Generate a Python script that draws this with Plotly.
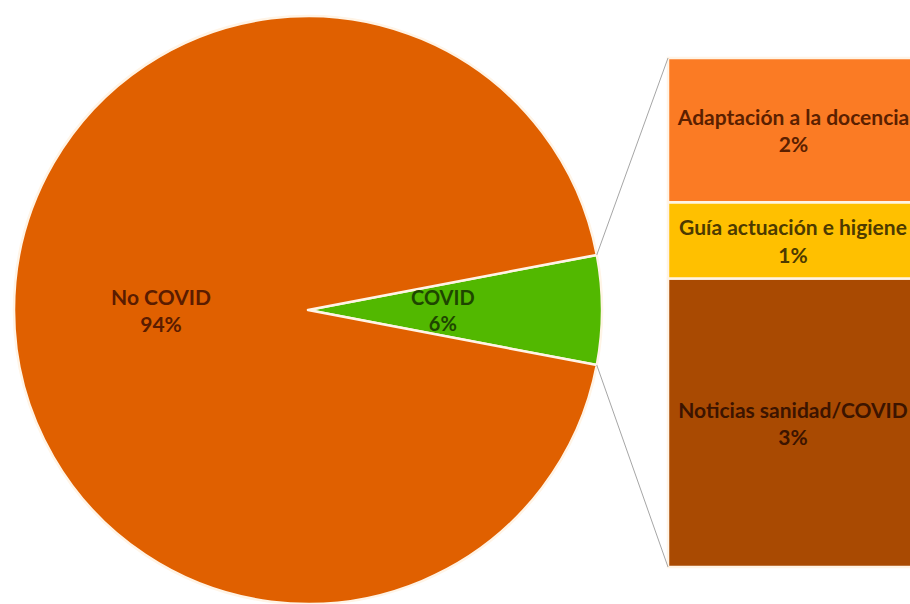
import math
import plotly.graph_objects as go

# Share of items: COVID vs. non-COVID, with the COVID share broken down
pie_labels = ["COVID", "No COVID"]
pie_values = [6.0, 94.0]
pie_colors = ["#52B800", "#E06000"]
pie_text_colors = ["#1E4600", "#5A1C00"]

# Breakdown of the COVID share (bottom to top of the stacked column)
bar_labels = ["Noticias sanidad/COVID", "Guía actuación e higiene", "Adaptación a la docencia"]
bar_values = [3.4, 0.9, 1.7]
bar_colors = ["#A94A02", "#FFC000", "#FB7B24"]
bar_text_colors = ["#3C1400", "#4D3A00", "#5A2000"]

W, H = 910, 604
TOP = 16                      # top margin
PLOT_H = H - TOP

# pie geometry (pixels)
CX, CY, R = 308, 310, 294
# column geometry (pixels)
BAR_CX, BAR_W, BAR_TOP, BAR_BOT = 793, 250, 58, 567
# radial distance of the small-slice label, as a fraction of the radius
SMALL_LABEL_R = 0.46

FONT = "Lato, 'Open Sans', sans-serif"
PIE_FONT_SIZE = 20
BAR_FONT_SIZE = 21

fig = go.Figure()

total_pie = sum(pie_values)
covid_share = pie_values[0] / total_pie
half_angle = covid_share * 360 / 2

pie_pct = [f"{v / total_pie * 100:.0f}%" for v in pie_values]

# the big slice is labelled by the pie itself; the narrow one by an annotation
fig.add_trace(go.Pie(
    labels=pie_labels,
    values=pie_values,
    sort=False,
    direction="clockwise",
    rotation=90 - half_angle,
    marker=dict(colors=pie_colors, line=dict(color="#FFF4E6", width=2.5)),
    texttemplate=["", "%{label}<br>%{percent:.0%}"],
    textposition="inside",
    insidetextorientation="horizontal",
    textfont=dict(family=FONT, size=PIE_FONT_SIZE, color=pie_text_colors, weight="bold"),
    domain=dict(x=[(CX - R) / W, (CX + R) / W], y=[0, 1]),
    showlegend=False,
    hoverinfo="label+percent",
))

# stacked column built from the breakdown values
total = sum(bar_values)
bases = []
acc = 0.0
for v in bar_values:
    bases.append(acc)
    acc += v
bar_text = [f"{lab}<br>{v:.0f}%" for lab, v in zip(bar_labels, bar_values)]

fig.add_trace(go.Bar(
    x=[BAR_CX] * len(bar_values),
    y=bar_values,
    base=bases,
    width=BAR_W,
    marker=dict(color=bar_colors, line=dict(color="#FFF4E6", width=2.5)),
    text=bar_text,
    textposition="inside",
    insidetextanchor="middle",
    constraintext="none",
    textfont=dict(family=FONT, size=BAR_FONT_SIZE, color=bar_text_colors, weight="bold"),
    showlegend=False,
    hoverinfo="text",
))

# y axis scaled so the column spans BAR_BOT..BAR_TOP pixels
k = (BAR_BOT - BAR_TOP) / total
y_lo = -(H - BAR_BOT) / k
y_hi = total + (BAR_TOP - TOP) / k

fig.update_xaxes(range=[0, W], visible=False, fixedrange=True)
fig.update_yaxes(range=[y_lo, y_hi], visible=False, fixedrange=True)


def px_to_paper(px, py):
    return px / W, (H - py) / PLOT_H


# label of the COVID slice, placed on its bisector
lx, ly = px_to_paper(CX + SMALL_LABEL_R * R, CY)
fig.add_annotation(
    x=lx, y=ly, xref="paper", yref="paper",
    text=f"{pie_labels[0]}<br>{pie_pct[0]}",
    showarrow=False,
    font=dict(family=FONT, size=PIE_FONT_SIZE, color=pie_text_colors[0], weight="bold"),
    xanchor="center", yanchor="middle",
)

# connector lines from the COVID slice to the column
a = math.radians(half_angle)
for sign, bar_py in ((1, BAR_TOP), (-1, BAR_BOT)):
    x0, y0 = px_to_paper(CX + R * math.cos(a), CY - sign * R * math.sin(a))
    x1, y1 = px_to_paper(BAR_CX - BAR_W / 2, bar_py)
    fig.add_shape(type="line", xref="paper", yref="paper",
                  x0=x0, y0=y0, x1=x1, y1=y1,
                  line=dict(color="#A6A6A6", width=1))

fig.update_layout(
    width=W, height=H,
    margin=dict(l=0, r=0, t=TOP, b=0),
    paper_bgcolor="white",
    plot_bgcolor="white",
    uniformtext=dict(minsize=BAR_FONT_SIZE, mode="show"),
    barmode="overlay",
)

fig.write_html("out.html")
